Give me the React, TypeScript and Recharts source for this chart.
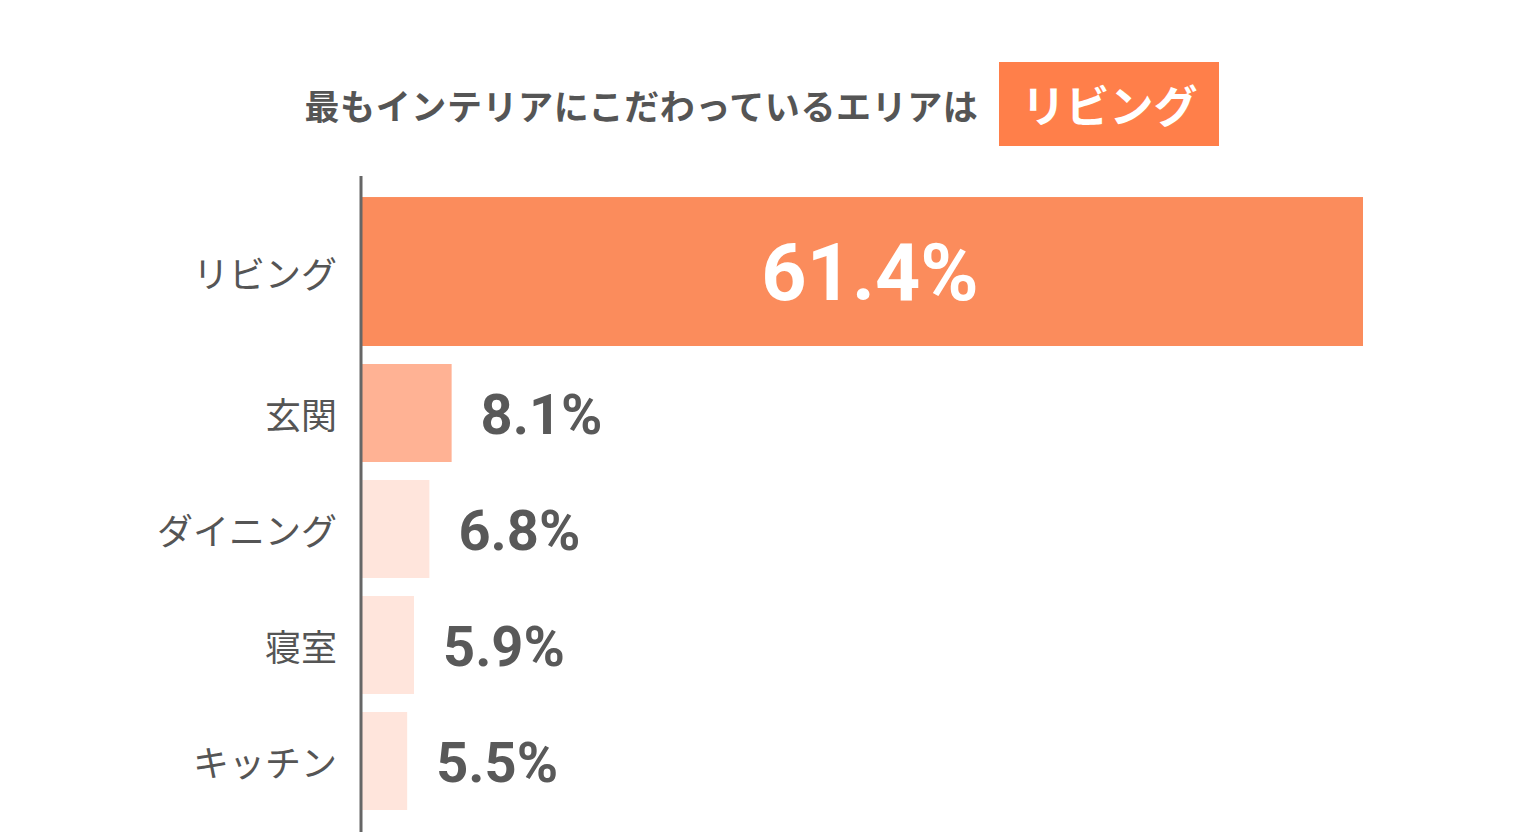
import { BarChart, Bar, XAxis, YAxis, LabelList, Cell } from "recharts";

const rooms = ["リビング", "玄関", "ダイニング", "寝室", "キッチン"];
const shares = [61.4, 8.1, 6.8, 5.9, 5.5];
const barColors = ["#FB8C5C", "#FFB294", "#FFE5DC", "#FFE5DC", "#FFE5DC"];

const data = rooms.map((room, i) => ({ room, share: shares[i] }));

const JP = '"Noto Sans CJK JP", "Noto Sans", sans-serif';
const NUM = 'Roboto, "Noto Sans", sans-serif';

// the top answer is drawn thicker, grown upward from its own band
const TOP_GROW = 0.52;
const BAR_SIZE = 98;

const BarShape = (props: any) => {
  const { x, y, width, height, fill, index } = props;
  const extra = index === 0 ? height * TOP_GROW : 0;
  return <rect x={x} y={y - extra} width={width} height={height + extra} fill={fill} />;
};

const RoomTick = (props: any) => {
  const { x, y, payload, index } = props;
  const shift = index === 0 ? (BAR_SIZE * TOP_GROW) / 2 : 0;
  return (
    <text
      x={x}
      y={y - shift}
      textAnchor="end"
      dominantBaseline="central"
      fill="#555"
      fontSize={36}
      fontFamily={JP}
    >
      {payload.value}
    </text>
  );
};

const ValueLabel = (props: any) => {
  const { x, y, width, height, value, index } = props;
  if (index === 0) {
    const extra = height * TOP_GROW;
    return (
      <text
        x={x + width / 2 + 8}
        y={y - extra / 2 + height / 2 + 1}
        textAnchor="middle"
        dominantBaseline="central"
        fill="#fff"
        fontFamily={NUM}
        fontWeight={700}
        fontSize={79}
      >
        {value}%
      </text>
    );
  }
  return (
    <text
      x={x + width + 29}
      y={y + height / 2 + 2}
      textAnchor="start"
      dominantBaseline="central"
      fill="#595959"
      fontFamily={NUM}
      fontWeight={700}
      fontSize={56}
    >
      {value}%
    </text>
  );
};

export default function App() {
  return (
    <div style={{ position: "absolute", left: 0, top: 0, width: 1520, height: 840, background: "#fff" }}>
      <div
        style={{
          position: "absolute",
          left: 2,
          top: 62,
          width: 1520,
          height: 84,
          display: "flex",
          justifyContent: "center",
          alignItems: "center",
          fontFamily: JP,
        }}
      >
        <span style={{ fontSize: 35, fontWeight: 700, color: "#555", letterSpacing: 0.6 }}>
          最もインテリアにこだわっているエリアは
        </span>
        <span
          style={{
            marginLeft: 21,
            width: 220,
            height: 84,
            background: "#FF7F4A",
            color: "#fff",
            fontSize: 44,
            fontWeight: 700,
            display: "flex",
            alignItems: "center",
            justifyContent: "center",
          }}
        >
          リビング
        </span>
      </div>
      <div style={{ position: "absolute", left: 0, top: 0 }}>
        <BarChart
          width={1520}
          height={840}
          data={data}
          layout="vertical"
          margin={{ top: 176, right: 157, bottom: 8, left: 0 }}
        >
          <XAxis type="number" hide domain={[2.8, 61.4]} allowDataOverflow />
          <YAxis
            type="category"
            dataKey="room"
            width={361}
            padding={{ top: 63, bottom: 13 }}
            axisLine={{ stroke: "#666", strokeWidth: 3 }}
            tickLine={false}
            tickSize={0}
            tickMargin={24}
            tick={<RoomTick />}
          />
          <Bar dataKey="share" barSize={BAR_SIZE} isAnimationActive={false} shape={<BarShape />}>
            {data.map((d, i) => (
              <Cell key={d.room} fill={barColors[i]} />
            ))}
            <LabelList dataKey="share" content={<ValueLabel />} />
          </Bar>
        </BarChart>
      </div>
    </div>
  );
}
